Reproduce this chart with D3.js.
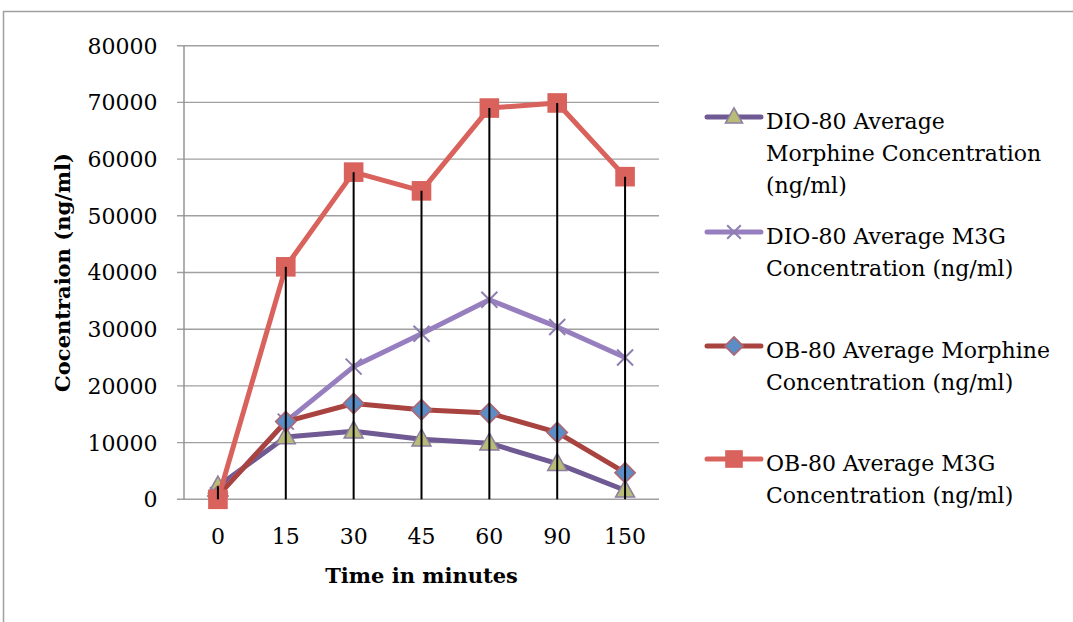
<!DOCTYPE html>
<html>
<head>
<meta charset="utf-8">
<script src="https://cdn.jsdelivr.net/npm/d3@7"></script>
<style>
  html, body { margin: 0; padding: 0; background: #fff; }
  svg { display: block; }
  text { font-family: "DejaVu Serif", "Liberation Serif", serif; fill: #000; }
</style>
</head>
<body>
<svg id="chart" width="1073" height="622"></svg>
<script>
const categories = ["0", "15", "30", "45", "60", "90", "150"];
const dioMorphine = [2300, 11000, 12000, 10600, 9900, 6300, 1600];
const dioM3G = [700, 13700, 23400, 29200, 35200, 30400, 25000];
const obMorphine = [600, 13700, 16900, 15800, 15200, 11800, 4700];
const obM3G = [0, 41000, 57700, 54400, 69000, 69900, 56900];
const yTicks = [0, 10000, 20000, 30000, 40000, 50000, 60000, 70000, 80000];
const seriesNames = [
  ["DIO-80 Average", "Morphine Concentration", "(ng/ml)"],
  ["DIO-80 Average M3G", "Concentration (ng/ml)"],
  ["OB-80 Average Morphine", "Concentration (ng/ml)"],
  ["OB-80 Average M3G", "Concentration (ng/ml)"]
];
const yTitle = "Cocentraion (ng/ml)";
const xTitle = "Time in minutes";

const series = [
  { values: dioMorphine, line: "#6F5A93", marker: "triangle", fill: "#B8BC78", stroke: "#8C7E9E" },
  { values: dioM3G, line: "#977FBF", marker: "x", fill: "none", stroke: "#8F7EB0" },
  { values: obMorphine, line: "#A9433F", marker: "diamond", fill: "#5B8DC6", stroke: "#A86A78" },
  { values: obM3G, line: "#D9625D", marker: "square", fill: "#D9625D", stroke: "#D9625D" }
];

const svg = d3.select("#chart");

// outer chart border
svg.append("path").attr("d", "M3.5,622 L3.5,11.5 L1073,11.5")
  .attr("fill", "none").attr("stroke", "#A0A0A0").attr("stroke-width", 1.5);

const pL = 184, pR = 659, pT = 45.7, pB = 499.3;
const x = d3.scaleBand().domain(categories).range([pL, pR]);
const y = d3.scaleLinear().domain([0, 80000]).range([pB, pT]);
const cx = c => x(c) + x.bandwidth() / 2;

// gridlines
svg.append("g").selectAll("line").data(yTicks).join("line")
  .attr("x1", pL - 7).attr("x2", pR)
  .attr("y1", d => y(d)).attr("y2", d => y(d))
  .attr("stroke", "#A0A0A0").attr("stroke-width", 1.4);

// y axis line
svg.append("line").attr("x1", pL).attr("x2", pL).attr("y1", pT).attr("y2", pB)
  .attr("stroke", "#8E8E8E").attr("stroke-width", 1.4);

// y tick labels
svg.append("g").selectAll("text").data(yTicks).join("text")
  .attr("x", 157.5).attr("y", d => y(d)).attr("dy", "0.36em")
  .attr("text-anchor", "end").style("font-size", "22px")
  .text(d => d);

// x tick labels
svg.append("g").selectAll("text").data(categories).join("text")
  .attr("x", d => cx(d)).attr("y", 544)
  .attr("text-anchor", "middle").style("font-size", "22px")
  .text(d => d);

// axis titles
svg.append("text").attr("x", (pL + pR) / 2).attr("y", 583)
  .attr("text-anchor", "middle").style("font-size", "21px").style("font-weight", "bold")
  .text(xTitle);
svg.append("text").attr("transform", `translate(70,${(pT + pB) / 2}) rotate(-90)`)
  .attr("text-anchor", "middle").style("font-size", "21px").style("font-weight", "bold")
  .text(yTitle);

function drawMarker(g, s, px, py, scale) {
  const k = scale || 1;
  if (s.marker === "triangle") {
    const h = 17 * k, w = 19 * k;
    g.append("path").attr("d", `M${px},${py - h * 0.6} L${px + w / 2},${py + h * 0.4} L${px - w / 2},${py + h * 0.4} Z`)
      .attr("fill", s.fill).attr("stroke", s.stroke).attr("stroke-width", 1.5);
  } else if (s.marker === "x") {
    const r = 8 * k;
    g.append("path").attr("d", `M${px - r},${py - r} L${px + r},${py + r} M${px - r},${py + r} L${px + r},${py - r}`)
      .attr("stroke", s.stroke).attr("stroke-width", 2).attr("fill", "none");
  } else if (s.marker === "diamond") {
    const r = 10 * k;
    g.append("path").attr("d", `M${px},${py - r} L${px + r},${py} L${px},${py + r} L${px - r},${py} Z`)
      .attr("fill", s.fill).attr("stroke", s.stroke).attr("stroke-width", 1.8);
  } else if (s.marker === "square") {
    const r = 9.8 * k;
    g.append("rect").attr("x", px - r).attr("y", py - r).attr("width", 2 * r).attr("height", 2 * r)
      .attr("fill", s.fill);
  }
}

const lineGen = d3.line().x((d, i) => cx(categories[i])).y(d => y(d));
series.forEach(s => {
  const g = svg.append("g");
  g.append("path").datum(s.values).attr("d", lineGen)
    .attr("fill", "none").attr("stroke", s.line).attr("stroke-width", 5)
    .attr("stroke-linejoin", "round");
  s.values.forEach((v, i) => drawMarker(g, s, cx(categories[i]), y(v)));
});

// drop lines from highest point to axis
svg.append("g").selectAll("line").data(categories).join("line")
  .attr("x1", d => cx(d)).attr("x2", d => cx(d))
  .attr("y1", (d, i) => y(d3.max(series, s => s.values[i])))
  .attr("y2", y(0))
  .attr("stroke", "#000").attr("stroke-width", 2);

// legend
const legendY = [117, 232, 346, 459];
const lg = svg.append("g");
series.forEach((s, i) => {
  const ly = legendY[i];
  lg.append("line").attr("x1", 707).attr("x2", 761).attr("y1", ly).attr("y2", ly)
    .attr("stroke", s.line).attr("stroke-width", 5).attr("stroke-linecap", "round");
  drawMarker(lg, s, 734, ly, s.marker === "x" ? 0.85 : 0.9);
  seriesNames[i].forEach((t, j) => {
    lg.append("text").attr("x", 766).attr("y", ly + 4 + j * 32).attr("dy", "0.36em")
      .style("font-size", "22px").text(t);
  });
});
</script>
</body>
</html>
